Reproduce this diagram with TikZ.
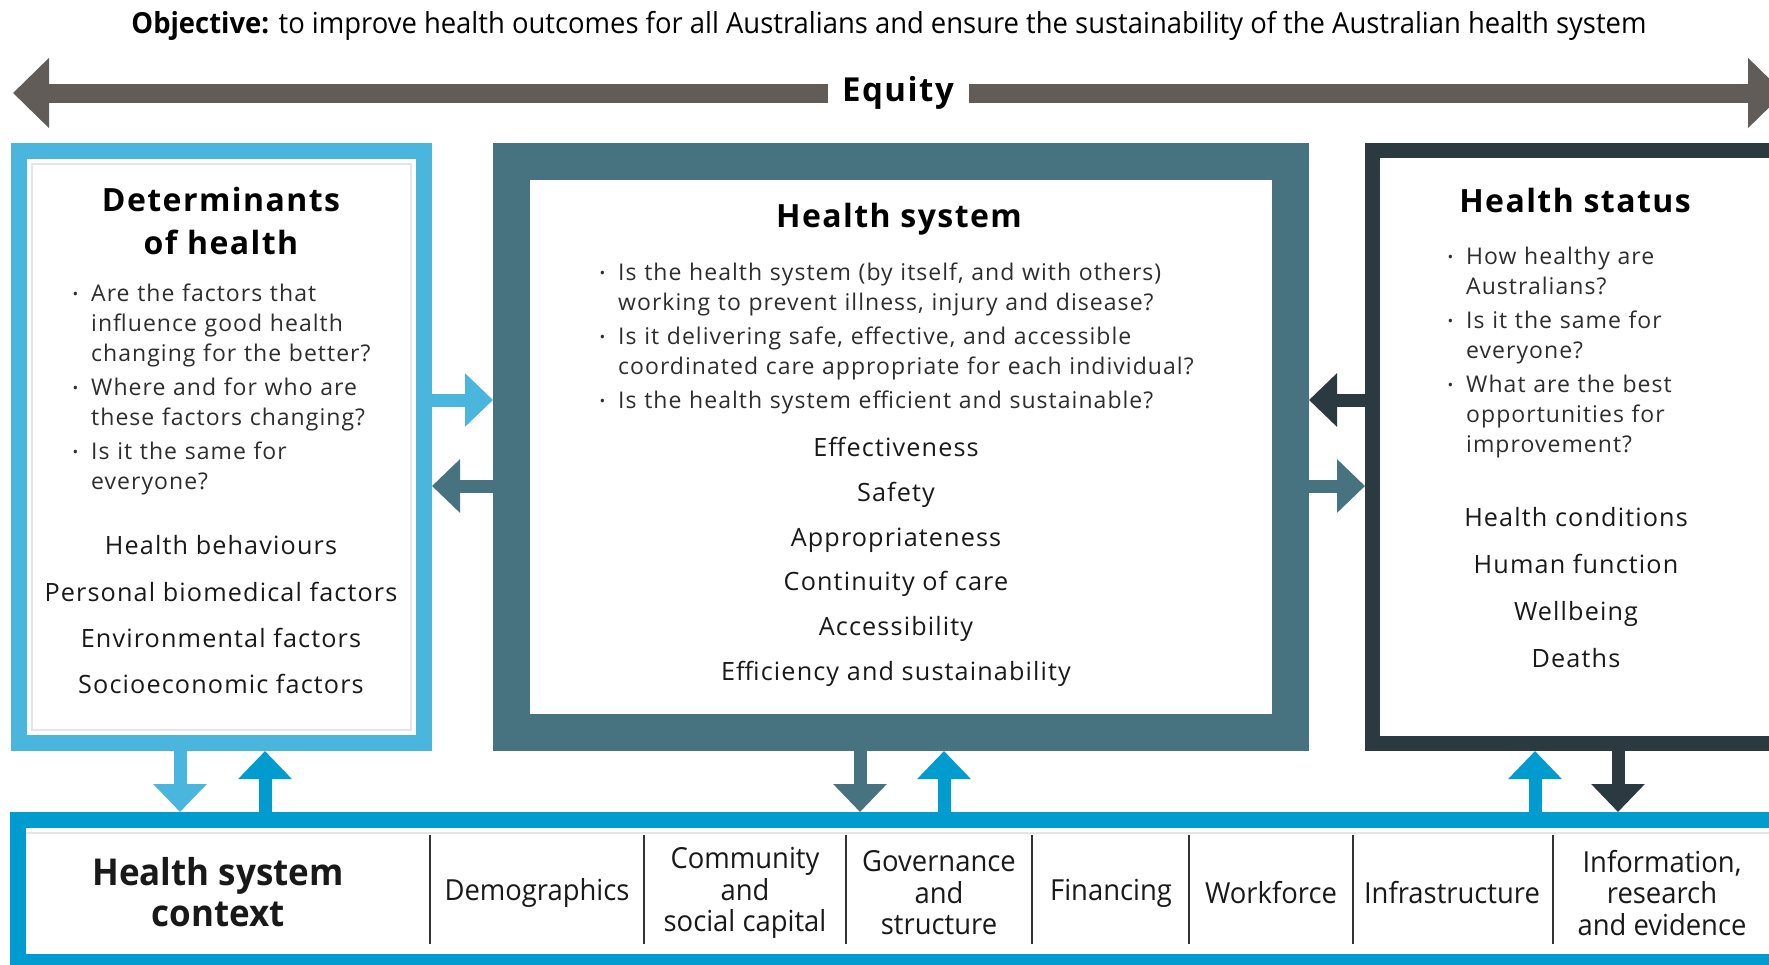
\documentclass[tikz,border=0pt]{standalone}
\usepackage{fontspec}
\setmainfont{Open Sans}[LetterSpace=4.5]
\newfontfamily\condfont[FakeStretch=0.945]{Open Sans}
\usepackage{enumitem}
\usetikzlibrary{arrows.meta,positioning,calc}
\definecolor{skyblue}{RGB}{74,182,221}
\definecolor{slateteal}{RGB}{71,114,128}
\definecolor{charcoal}{RGB}{43,57,64}
\definecolor{cerulean}{RGB}{0,156,208}
\definecolor{taupe}{RGB}{98,92,88}
\definecolor{inktext}{RGB}{45,45,45}
\newcommand{\qlist}[1]{%
  \begin{itemize}[leftmargin=20pt,labelsep=13pt,itemsep=4pt,topsep=0pt,parsep=0pt,partopsep=0pt,
    label={\raisebox{2pt}{\fontsize{15}{15}\selectfont\textbullet}}]#1\end{itemize}}

\begin{document}
\begin{tikzpicture}[x=1pt,y=-1pt,
    panel/.style={draw=#1,line width=16pt,inner sep=0pt},
    fat/.style={draw=#1,line width=13pt,-{Triangle[length=28pt,width=52pt]}},
    heading/.style={font=\fontsize{32}{43}\selectfont\bfseries,align=center,inner sep=0pt},
    factor/.style={font=\fontsize{25.2}{28}\selectfont,text=black!90,inner sep=0pt,text height=18pt,text depth=5.5pt},
    questions/.style={font=\fontsize{23}{30}\selectfont,text=inktext,inner sep=0pt,anchor=north west},
    cell/.style={font=\condfont\fontsize{29}{31.6}\selectfont,align=center,text=black!90,inner sep=0pt},
    divider/.style={draw=black!80,line width=2pt}]
  \useasboundingbox (0,0) rectangle (1769,964);
  \clip (0,0) rectangle (1769,964);

  % objective and equity
  \node[font=\condfont\fontsize{29}{32}\selectfont,inner sep=0pt] (objective) at (889,26)
    {\textbf{Objective:} to improve health outcomes for all Australians and ensure the sustainability of the Australian health system};
  \coordinate (eqL) at (13,93);
  \coordinate (eqR) at (1784,93);
  \draw[taupe,line width=19pt,{Triangle[length=36pt,width=68pt]}-{Triangle[length=36pt,width=68pt]}]
    (eqL) -- (eqR);
  \node[fill=white,font=\fontsize{33}{40}\selectfont\bfseries,minimum width=141pt,minimum height=30pt,inner sep=0pt] (equity) at (898,93) {Equity};

  % the three panels
  \node[panel=skyblue,minimum width=405pt,minimum height=592pt] (det) at (221.5,447) {};
  \node[panel=slateteal,line width=37pt,minimum width=779pt,minimum height=571pt] (sys) at (901,447) {};
  \node[panel=charcoal,line width=15pt,minimum width=427.5pt,minimum height=593pt] (stat) at (1586.25,447) {};
  \draw[black!10,line width=1.2pt] ($(det.north west)+(21,21)$) rectangle ($(det.south east)+(-21,-21)$);

  % context strip
  \node[panel=cerulean,line width=16pt,minimum width=1783pt,minimum height=142pt] (ctx) at (909,891) {};
  \draw[black!10,line width=1.2pt] (26,833) -- (1769,833);

  % determinants of health
  \node[heading] (detT) at (221,221) {Determinants\\of health};
  \node[questions,text width=320pt] (detQ) at (71,271.5) {\qlist{%
    \item Are the factors that\\influence good health\\changing for the better?
    \item Where and for who are\\these factors changing?
    \item Is it the same for\\everyone?}};
  \foreach \t [count=\i] in {Health behaviours,Personal biomedical factors,Environmental factors,Socioeconomic factors}
    \node[factor] (detF\i) at (221,{548.5+(\i-1)*46.3}) {\t};

  % health system
  \node[heading] (sysT) at (899,219) {Health system};
  \node[questions,text width=640pt] (sysQ) at (598,250.5) {\qlist{%
    \item Is the health system (by itself, and with others)\\working to prevent illness, injury and disease?
    \item Is it delivering safe, effective, and accessible\\coordinated care appropriate for each individual?
    \item Is the health system efficient and sustainable?}};
  \foreach \t [count=\i] in {Effectiveness,Safety,Appropriateness,Continuity of care,Accessibility,Efficiency and sustainability}
    \node[factor] (sysF\i) at (896,{450.5+(\i-1)*44.7}) {\t};

  % health status
  \node[heading] (statT) at (1575,200) {Health status};
  \node[questions,text width=300pt] (statQ) at (1446,234.5) {\qlist{%
    \item How healthy are\\Australians?
    \item Is it the same for\\everyone?
    \item What are the best\\opportunities for\\improvement?}};
  \foreach \t [count=\i] in {Health conditions,Human function,Wellbeing,Deaths}
    \node[factor] (statF\i) at (1576,{520+(\i-1)*47}) {\t};

  % links between panels
  \draw[fat=skyblue] (det.east |- 0,400) -- (sys.west |- 0,400);
  \draw[fat=slateteal] (sys.west |- 0,486) -- (det.east |- 0,486);
  \draw[fat=charcoal] (stat.west |- 0,400) -- (sys.east |- 0,400);
  \draw[fat=slateteal] (sys.east |- 0,486) -- (stat.west |- 0,486);

  % links to the context strip
  \draw[fat=skyblue] (det.south -| 180,0) -- (ctx.north -| 180,0);
  \draw[fat=cerulean] (ctx.north -| 265,0) -- (det.south -| 265,0);
  \draw[fat=slateteal] (sys.south -| 860,0) -- (ctx.north -| 860,0);
  \draw[fat=cerulean] (ctx.north -| 944,0) -- (sys.south -| 944,0);
  \draw[fat=cerulean] (ctx.north -| 1535,0) -- (stat.south -| 1535,0);
  \draw[fat=charcoal] (stat.south -| 1618,0) -- (ctx.north -| 1618,0);

  % context cells
  \node[cell,font=\condfont\fontsize{37}{41.5}\selectfont\bfseries] (ctxT) at (218,892) {Health system\\context};
  \foreach \x in {430,644,846,1032,1189,1353,1553}
    \draw[divider] (\x,835) -- (\x,944);
  \node[cell] (c1) at (537,893) {Demographics};
  \node[cell] (c2) at (745,893) {Community\\and\\social capital};
  \node[cell] (c3) at (939,893) {Governance\\and\\structure};
  \node[cell] (c4) at (1111,893) {Financing};
  \node[cell] (c5) at (1271,893) {Workforce};
  \node[cell] (c6) at (1452,893) {Infrastructure};
  \node[cell] (c7) at (1662,893) {Information,\\research\\and evidence};
\end{tikzpicture}
\end{document}
